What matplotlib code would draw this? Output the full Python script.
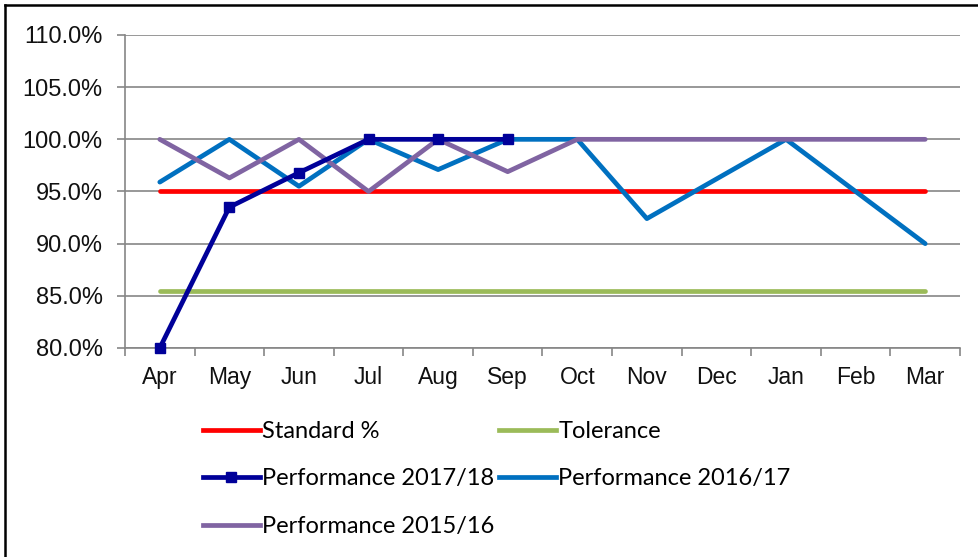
import numpy as np
import matplotlib
matplotlib.use('Agg')
import matplotlib.pyplot as plt
from matplotlib.ticker import FuncFormatter, MultipleLocator
from matplotlib.lines import Line2D

plt.rcParams['font.family'] = ['Liberation Sans', 'DejaVu Sans']

# ---- data ----
months = ['Apr', 'May', 'Jun', 'Jul', 'Aug', 'Sep', 'Oct', 'Nov', 'Dec', 'Jan', 'Feb', 'Mar']
standard = [95.0] * 12
tolerance = [85.5] * 12
perf_1718 = [80.0, 93.5, 96.8, 100.0, 100.0, 100.0]
perf_1617 = [95.9, 100.0, 95.5, 100.0, 97.1, 100.0, 100.0, 92.4, 96.2, 100.0, 95.0, 90.0]
perf_1516 = [100.0, 96.3, 100.0, 95.0, 100.0, 96.9, 100.0, 100.0, 100.0, 100.0, 100.0, 100.0]

# ---- figure ----
fig = plt.figure(figsize=(9.79, 5.57), dpi=100)
ax = fig.add_axes([125 / 979, 1 - 348 / 557, (960 - 125) / 979, (348 - 35) / 557])

x = np.arange(len(months))
lw = 3.4
ax.plot(x, standard, color='#FF0000', lw=lw, solid_capstyle='round', zorder=3)
ax.plot(x, tolerance, color='#9BBB59', lw=lw, solid_capstyle='round', zorder=3)
ax.plot(x, perf_1617, color='#0070C0', lw=lw, solid_capstyle='round', zorder=4)
ax.plot(x, perf_1516, color='#8064A2', lw=lw, solid_capstyle='round', zorder=5)
ax.plot(x[:len(perf_1718)], perf_1718, color='#000099', lw=lw, marker='s', ms=7.5,
        solid_capstyle='round', zorder=6, clip_on=False)

ax.set_xlim(-0.5, 11.5)
ax.set_ylim(80, 110)
ax.yaxis.set_major_locator(MultipleLocator(5))
ax.yaxis.set_major_formatter(FuncFormatter(lambda v, p: f'{v:.1f}%'))
ax.set_xticks(x)
ax.set_xticklabels(months)
ax.set_xticks(np.arange(-0.5, 12, 1), minor=True)
ax.tick_params(axis='x', which='major', length=0, pad=13, labelsize=16.5)
ax.tick_params(axis='x', which='minor', length=6, color='#868686', width=1.2)
ax.tick_params(axis='y', length=6, color='#868686', width=1.2, pad=10, labelsize=17)
ax.tick_params(labelcolor='#111111')

ax.grid(axis='y', color='#868686', lw=1.2)
ax.set_axisbelow(True)
for s in ['top', 'right']:
    ax.spines[s].set_visible(False)
for s in ['left', 'bottom']:
    ax.spines[s].set_color('#868686')
    ax.spines[s].set_linewidth(1.2)

# frame around chart area
fig.add_artist(Line2D([5 / 979, 5 / 979], [0, 1 - 5 / 557], color='black', lw=1.8))
fig.add_artist(Line2D([5 / 979, 1], [1 - 5 / 557, 1 - 5 / 557], color='black', lw=1.8))

# legend
handles = [
    Line2D([], [], color='#FF0000', lw=lw),
    Line2D([], [], color='#000099', lw=lw, marker='s', ms=7.5),
    Line2D([], [], color='#8064A2', lw=lw),
    Line2D([], [], color='#9BBB59', lw=lw),
    Line2D([], [], color='#0070C0', lw=lw),
]
labels = ['Standard %', 'Performance 2017/18', 'Performance 2015/16',
          'Tolerance', 'Performance 2016/17']
fig.legend(handles, labels, loc='upper left', bbox_to_anchor=(203 / 979, 1 - 421 / 557),
           ncol=2, frameon=False, borderpad=0, borderaxespad=0,
           handlelength=2.4, handletextpad=0.1,
           columnspacing=0.2, labelspacing=1.12,
           prop={'family': 'Lato', 'size': 17})

fig.savefig('out.png', dpi=100)
